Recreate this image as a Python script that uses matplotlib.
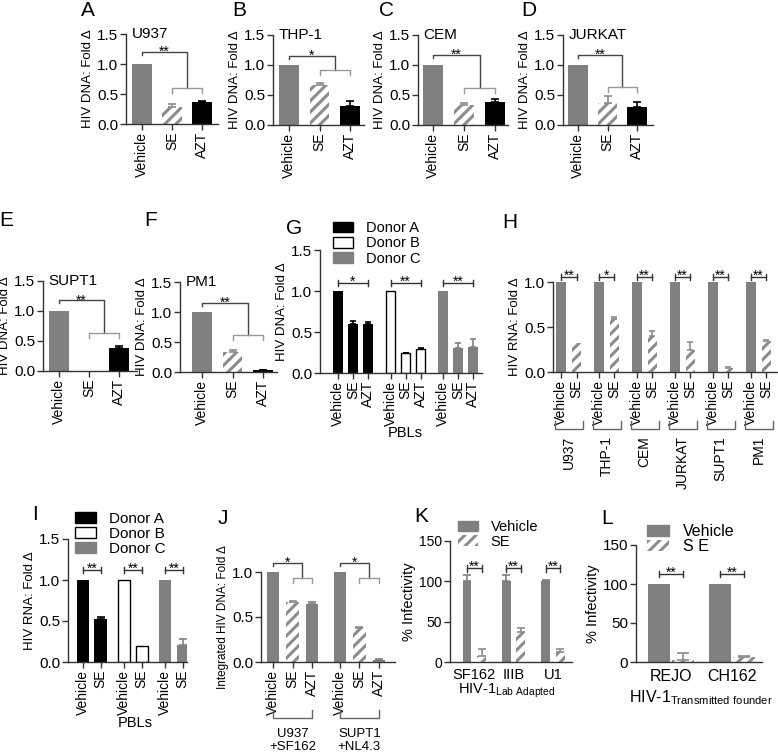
"""
Multi-panel bar chart: HIV DNA / RNA fold change and infectivity after SE treatment.
"""

import matplotlib

matplotlib.use("Agg")
import matplotlib.pyplot as plt
from matplotlib.patches import Patch
from matplotlib.transforms import blended_transform_factory

plt.rcParams["font.family"] = ["Liberation Sans", "DejaVu Sans"]
plt.rcParams["mathtext.fontset"] = "custom"
plt.rcParams["mathtext.rm"] = "Liberation Sans"
plt.rcParams["hatch.linewidth"] = 2.2
plt.rcParams["axes.linewidth"] = 1.0

W, H = 778, 752
GRAY = "#808080"
HATCH = "#8c8c8c"
AXIS = "#333333"

# ---- data ----
treatments = ["Vehicle", "SE", "AZT"]
u937_dna = [1.0, 0.28, 0.37]
u937_dna_err = [0, 0.06, 0.02]
thp1_dna = [1.0, 0.66, 0.32]
thp1_dna_err = [0, 0.04, 0.08]
cem_dna = [1.0, 0.34, 0.38]
cem_dna_err = [0, 0.02, 0.05]
jurkat_dna = [1.0, 0.37, 0.30]
jurkat_dna_err = [0, 0.11, 0.09]
supt1_dna = [1.0, 0.0, 0.38]
supt1_dna_err = [0, 0, 0.04]
pm1_dna = [1.0, 0.34, 0.03]
pm1_dna_err = [0, 0.02, 0.01]

donors = ["Donor A", "Donor B", "Donor C"]
pbl_dna = [[1.0, 0.60, 0.60], [1.0, 0.24, 0.29], [1.0, 0.30, 0.32]]
pbl_dna_err = [[0, 0.03, 0.02], [0, 0.01, 0.02], [0, 0.06, 0.09]]

cell_lines = ["U937", "THP-1", "CEM", "JURKAT", "SUPT1", "PM1"]
rna_vehicle = [1.0, 1.0, 1.0, 1.0, 1.0, 1.0]
rna_se = [0.32, 0.59, 0.40, 0.24, 0.05, 0.34]
rna_se_err = [0.0, 0.02, 0.06, 0.09, 0.01, 0.02]
rna_stars = ["**", "*", "**", "**", "**", "**"]

pbl_rna = [[1.0, 0.53], [1.0, 0.19], [1.0, 0.21]]
pbl_rna_err = [[0, 0.02], [0, 0.0], [0, 0.07]]

integ_cells = ["U937", "SUPT1"]
integ_virus = ["+SF162", "+NL4.3"]
integ_dna = [[1.0, 0.67, 0.65], [1.0, 0.38, 0.02]]
integ_dna_err = [[0, 0.01, 0.02], [0, 0.01, 0.01]]

lab_strains = ["SF162", "IIIB", "U1"]
lab_vehicle = [100, 100, 100]
lab_vehicle_err = [8, 8, 2]
lab_se = [8, 37, 13]
lab_se_err = [8, 5, 3]

tf_strains = ["REJO", "CH162"]
tf_vehicle = [100, 100]
tf_se = [3, 6]
tf_se_err = [8, 2]

STYLE = {
    "gray": dict(color=GRAY, edgecolor=GRAY, linewidth=0),
    "black": dict(color="black", edgecolor="black", linewidth=0),
    "white": dict(color="white", edgecolor="black", linewidth=1),
    "hatch": dict(color="white", edgecolor=HATCH, hatch="///", linewidth=0),
}
ERR_COLOR = {"gray": GRAY, "black": "black", "white": "black", "hatch": HATCH}

fig = plt.figure(figsize=(W / 100, H / 100), dpi=100)


def make_axes(left, right, top, bottom, p0, step, ymax, yticks, fmt="{:.1f}", fs=11):
    ax = fig.add_axes([left / W, 1 - bottom / H, (right - left) / W, (bottom - top) / H])
    ax.set_xlim((left - p0) / step, (right - p0) / step)
    ax.set_ylim(0, ymax)
    ax.spines[["top", "right"]].set_visible(False)
    ax.spines[["left", "bottom"]].set_color(AXIS)
    ax.set_yticks(yticks)
    ax.set_yticklabels([fmt.format(t) for t in yticks], fontsize=fs)
    ax.tick_params(colors=AXIS, labelcolor="black", length=4, width=1, pad=1.5)
    return ax


def bars(ax, xs, vals, errs, styles, width, capsize=3):
    for x, v, e, s in zip(xs, vals, errs, styles):
        ax.bar(x, v, width, zorder=2, **STYLE[s])
        if e > 0:
            ax.errorbar(x, v, yerr=[[0], [e]], fmt="none", ecolor=ERR_COLOR[s],
                        elinewidth=1.2, capsize=capsize, capthick=1.2, zorder=3)


def xlabels(ax, xs, labels, fs=10):
    ax.set_xticks(xs)
    ax.set_xticklabels(labels, rotation=90, fontsize=fs)


def stars_text(ax, x, y, s, dy):
    ax.annotate(s, (x, y), xytext=(0, dy), textcoords="offset points", ha="center",
                va="baseline", fontsize=10, annotation_clip=False)


def nested(ax, xv, x1, x2, ytop, ylow, stars, drop):
    xm = (x1 + x2) / 2
    ax.plot([xv, xv, xm, xm], [ytop - drop, ytop, ytop, ylow], color="#444444", lw=1, clip_on=False)
    ax.plot([x1, x1, x2, x2], [ylow - 1.6 * drop, ylow, ylow, ylow - 1.6 * drop],
            color="#999999", lw=1, clip_on=False)
    stars_text(ax, (xv + xm) / 2, ytop, stars, -3)


def hbar(ax, x1, x2, y, stars, tick):
    ax.plot([x1, x2], [y, y], color=AXIS, lw=1, clip_on=False)
    for x in (x1, x2):
        ax.plot([x, x], [y - tick, y + tick], color=AXIS, lw=1, clip_on=False)
    stars_text(ax, (x1 + x2) / 2, y, stars, -2)


def group_bracket(ax, x1, x2, y_px, rise_px, color="#666666"):
    tr = blended_transform_factory(ax.transData, fig.transFigure)
    yb = 1 - y_px / H
    yt = 1 - (y_px - rise_px) / H
    ax.plot([x1, x1, x2, x2], [yt, yb, yb, yt], transform=tr, color=color, lw=1, clip_on=False)


def text_at(ax, x, y_px, s, **kw):
    tr = blended_transform_factory(ax.transData, fig.transFigure)
    ax.text(x, 1 - y_px / H, s, transform=tr, **kw)


def letter(x, y, s):
    fig.text(x / W, 1 - y / H, s, ha="center", va="center", fontsize=15)


def legend(ax, handles, labels, x_px, y_px, fs, spacing):
    ax.legend(handles, labels, loc="upper left", bbox_to_anchor=(x_px / W, 1 - y_px / H),
              bbox_transform=fig.transFigure, frameon=False, fontsize=fs, handlelength=1.35,
              handleheight=0.75, handletextpad=0.9, labelspacing=spacing, borderpad=0,
              borderaxespad=0)


# ---- panels A-F: single cell line DNA ----
simple = [
    ("A", "U937", u937_dna, u937_dna_err, (126, 218, 34, 124, 142, 30), "**", 1.20, 0.60),
    ("B", "THP-1", thp1_dna, thp1_dna_err, (273, 364, 35, 125, 289, 30.5), "*", 1.15, 0.92),
    ("C", "CEM", cem_dna, cem_dna_err, (418, 508, 35, 125, 433, 31), "**", 1.17, 0.62),
    ("D", "JURKAT", jurkat_dna, jurkat_dna_err, (563, 653, 35, 125, 578, 29.5), "**", 1.17, 0.63),
    ("E", "SUPT1", supt1_dna, supt1_dna_err, (43, 137, 281, 371, 59, 30), "**", 1.18, 0.63),
    ("F", "PM1", pm1_dna, pm1_dna_err, (180, 277, 282, 372, 202, 30.5), "**", 1.15, 0.62),
]
letter_pos = {"A": (88, 11), "B": (239, 11), "C": (386, 11), "D": (529, 11),
              "E": (6, 220), "F": (151, 220)}

for name, title, vals, errs, box, stars, ytop, ylow in simple:
    ax = make_axes(*box, 1.5, [0, 0.5, 1.0, 1.5])
    xs = [0, 1, 2]
    bars(ax, xs, vals, errs, ["gray", "hatch", "black"], 0.65)
    xlabels(ax, xs, treatments)
    ax.set_ylabel("HIV DNA: Fold \u0394", fontsize=9.5, labelpad=2)
    ax.text(0.06, 1.0, title, transform=ax.transAxes, ha="left", va="center", fontsize=11)
    nested(ax, 0, 1, 2, ytop, ylow, stars, 0.05)
    letter(*letter_pos[name], name)

# ---- G: PBL DNA ----
ax = make_axes(320, 482, 250, 373, 338, 15, 1.5, [0, 0.5, 1.0, 1.5])
donor_styles = ["black", "white", "gray"]
g_stars = ["*", "**", "**"]
xs_all = []
for g in range(3):
    xs = [g * 3.5 + i for i in range(3)]
    xs_all += xs
    bars(ax, xs, pbl_dna[g], pbl_dna_err[g], [donor_styles[g]] * 3, 0.65, capsize=2.5)
    hbar(ax, xs[0], xs[2], 1.1, g_stars[g], 0.035)
xlabels(ax, xs_all, treatments * 3)
ax.set_ylabel("HIV DNA: Fold \u0394", fontsize=9.5, labelpad=2)
text_at(ax, 4.5, 433, "PBLs", ha="center", va="center", fontsize=10.5)
legend(ax, [Patch(facecolor="black", edgecolor="black"),
            Patch(facecolor="white", edgecolor="black", linewidth=1),
            Patch(facecolor=GRAY, edgecolor=GRAY)], donors, 333, 221, 10.5, 0.1)
letter(294, 228, "G")

# ---- H: cell line RNA ----
ax = make_axes(553, 777, 282, 372, 561, 15.5, 1.0, [0, 0.5, 1.0])
xs_all = []
for g in range(6):
    x0 = g * 2.45
    xs = [x0, x0 + 1]
    xs_all += xs
    bars(ax, xs, [rna_vehicle[g], rna_se[g]], [0, rna_se_err[g]], ["gray", "hatch"], 0.62, capsize=2.5)
    hbar(ax, x0, x0 + 1, 1.055, rna_stars[g], 0.03)
    group_bracket(ax, x0 - 0.4, x0 + 1.4, 429, 8)
    text_at(ax, x0 + 0.5, 436, cell_lines[g], ha="center", va="top", rotation=90, fontsize=10)
xlabels(ax, xs_all, ["Vehicle", "SE"] * 6)
ax.set_ylabel("HIV RNA: Fold \u0394", fontsize=9.5, labelpad=2)
letter(510, 222, "H")

# ---- I: PBL RNA ----
ax = make_axes(68, 187, 539, 662, 83, 17.5, 1.5, [0, 0.5, 1.0, 1.5])
xs_all = []
for g in range(3):
    x0 = g * 2.35
    xs = [x0, x0 + 1]
    xs_all += xs
    bars(ax, xs, pbl_rna[g], pbl_rna_err[g], [donor_styles[g]] * 2, 0.7, capsize=3)
    hbar(ax, x0, x0 + 1, 1.12, "**", 0.035)
xlabels(ax, xs_all, ["Vehicle", "SE"] * 3)
ax.set_ylabel("HIV RNA: Fold \u0394", fontsize=9.5, labelpad=2)
text_at(ax, (135 - 83) / 17.5, 723, "PBLs", ha="center", va="center", fontsize=10.5)
legend(ax, [Patch(facecolor="black", edgecolor="black"),
            Patch(facecolor="white", edgecolor="black", linewidth=1),
            Patch(facecolor=GRAY, edgecolor=GRAY)], donors, 75, 512, 11, 0.05)
letter(35, 515, "I")

# ---- J: integrated DNA ----
ax = make_axes(261, 395, 572, 662, 273, 19.5, 1.0, [0, 0.5, 1.0])
xs_all = []
for g in range(2):
    x0 = g * 3.43
    xs = [x0, x0 + 1, x0 + 2]
    xs_all += xs
    bars(ax, xs, integ_dna[g], integ_dna_err[g], ["gray", "hatch", "gray"], 0.65, capsize=3)
    nested(ax, x0, x0 + 1, x0 + 2, 1.1, 0.93, "*", 0.03)
    group_bracket(ax, x0, x0 + 2, 718, 8)
    text_at(ax, x0 + 1, 737, integ_cells[g], ha="center", va="baseline", fontsize=9.5)
    text_at(ax, x0 + 1, 750, integ_virus[g], ha="center", va="baseline", fontsize=9.5)
xlabels(ax, xs_all, treatments * 2)
ax.set_ylabel("Integrated HIV DNA: Fold \u0394", fontsize=8.5, labelpad=2)
letter(223, 518, "J")

# ---- K: lab adapted strains ----
ax = make_axes(450, 572, 541, 662, 467, 14.5, 150, [0, 50, 100, 150], fmt="{:d}", fs=10)
for g in range(3):
    x0 = g * 2.72
    bars(ax, [x0], [lab_vehicle[g]], [lab_vehicle_err[g]], ["gray"], 0.62, capsize=3)
    bars(ax, [x0 + 1], [lab_se[g]], [lab_se_err[g]], ["hatch"], 0.62, capsize=3)
    hbar(ax, x0, x0 + 1, 116, "**", 4)
ax.set_xticks([g * 2.72 + 0.5 for g in range(3)])
ax.set_xticklabels(lab_strains, fontsize=10.5)
ax.tick_params(axis="x", length=0, pad=4)
ax.set_ylabel("% Infectivity", fontsize=10.5, labelpad=2)
fig.text(507 / W, 1 - 691 / H, "HIV-1$_{\\mathrm{Lab\\ Adapted}}$", ha="center", va="center",
         fontsize=10.5)
legend(ax, [Patch(facecolor=GRAY, edgecolor=GRAY),
            Patch(facecolor="white", edgecolor=HATCH, hatch="///", linewidth=0)],
       ["Vehicle", "SE"], 458, 520, 10.5, 0.05)
letter(421, 516, "K")

# ---- L: transmitted founder strains ----
ax = make_axes(636, 762, 545, 662, 659, 24, 150, [0, 50, 100, 150], fmt="{:d}", fs=11)
for g in range(2):
    x0 = g * 2.54
    bars(ax, [x0], [tf_vehicle[g]], [0], ["gray"], 0.9)
    bars(ax, [x0 + 1], [tf_se[g]], [tf_se_err[g]], ["hatch"], 0.9, capsize=4)
    hbar(ax, x0, x0 + 1, 113, "**", 4)
ax.set_xticks([g * 2.54 + 0.5 for g in range(2)])
ax.set_xticklabels(tf_strains, fontsize=11.5)
ax.tick_params(axis="x", length=0, pad=5)
ax.set_ylabel("% Infectivity", fontsize=10.5, labelpad=2)
fig.text(701 / W, 1 - 698 / H, "HIV-1$_{\\mathrm{Transmitted\\ founder}}$", ha="center",
         va="center", fontsize=11.5)
legend(ax, [Patch(facecolor=GRAY, edgecolor=GRAY),
            Patch(facecolor="white", edgecolor=HATCH, hatch="///", linewidth=0)],
       ["Vehicle", "S E"], 647, 524, 11.5, 0.0)
letter(607, 518, "L")

fig.savefig("out.png", dpi=100)
